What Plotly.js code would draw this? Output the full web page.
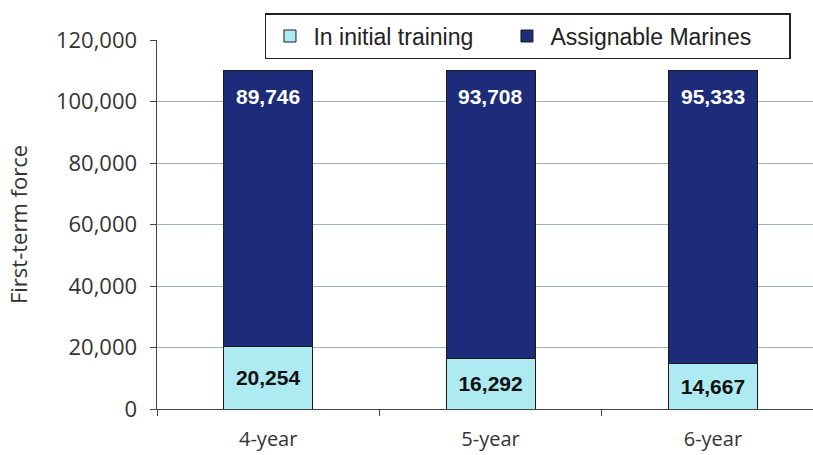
<!DOCTYPE html>
<html><head><meta charset="utf-8">
<script src="https://cdn.plot.ly/plotly-3.0.1.min.js"></script>
<style>html,body{margin:0;padding:0;background:#fff;}#chart{width:813px;height:455px;}</style>
</head><body><div id="chart"></div>
<script>
const categories = ['4-year', '5-year', '6-year'];
const inTraining = [20254, 16292, 14667];
const assignable = [89746, 93708, 95333];
const yTicks = [0, 20000, 40000, 60000, 80000, 100000, 120000];

const fmt = v => v.toLocaleString('en-US');
const totals = categories.map((c, i) => inTraining[i] + assignable[i]);

const traces = [
  {
    type: 'bar', name: 'In initial training', x: categories, y: inTraining,
    marker: {color: '#aeeaf2', line: {color: '#1a1a1a', width: 1}},
    width: 0.4, legendwidth: 185,
    text: inTraining.map(fmt), textposition: 'inside', insidetextanchor: 'middle',
    textfont: {family: 'Liberation Sans, Arial', size: 21, color: '#111', weight: 'bold'},
    hoverinfo: 'skip'
  },
  {
    type: 'bar', name: 'Assignable Marines', x: categories, y: assignable,
    marker: {color: '#1c2c7a', line: {color: '#1a1a1a', width: 1}},
    width: 0.4, legendwidth: 234, hoverinfo: 'skip'
  }
];

const annotations = categories.map((c, i) => ({
  x: c, y: totals[i], xref: 'x', yref: 'y', yanchor: 'top', yshift: -12,
  text: '<b>' + fmt(assignable[i]) + '</b>', showarrow: false,
  font: {family: 'Liberation Sans, Arial', size: 21, color: '#ffffff'}
}));

const axisFont = 'Open Sans, Lato, sans-serif';

const layout = {
  width: 813, height: 455,
  margin: {l: 157, r: 0, t: 40, b: 46},
  paper_bgcolor: '#fff', plot_bgcolor: '#fff',
  barmode: 'stack',
  font: {family: axisFont, color: '#333'},
  showlegend: true,
  legend: {
    orientation: 'h', x: 0.1646, xanchor: 'left', y: 1.073, yanchor: 'top',
    bgcolor: '#fff', bordercolor: '#222', borderwidth: 1.5,
    font: {family: 'Liberation Sans, Arial', size: 23, color: '#222'},
    traceorder: 'normal', itemwidth: 37
  },
  xaxis: {
    type: 'category', range: [-0.5, 2.45],
    showline: true, linecolor: '#444', linewidth: 1,
    ticks: 'outside', tickson: 'boundaries', ticklen: 6, tickcolor: '#444',
    showgrid: false, ticklabelstandoff: 12,
    tickfont: {family: axisFont, size: 20, color: '#333'}
  },
  yaxis: {
    range: [0, 120000], tickvals: yTicks, ticktext: yTicks.map(fmt),
    showline: true, linecolor: '#444', linewidth: 1.5,
    ticks: 'outside', ticklen: 6, tickcolor: '#444', ticklabelstandoff: 8,
    showgrid: true, gridcolor: '#9fb0bf', gridwidth: 1, zeroline: false,
    tickfont: {family: axisFont, size: 22, color: '#333'},
    title: {text: 'First-term force', standoff: 22,
      font: {family: axisFont, size: 22, color: '#333'}}
  },
  annotations: annotations
};

Plotly.newPlot('chart', traces, layout, {displayModeBar: false, staticPlot: true});
</script></body></html>
